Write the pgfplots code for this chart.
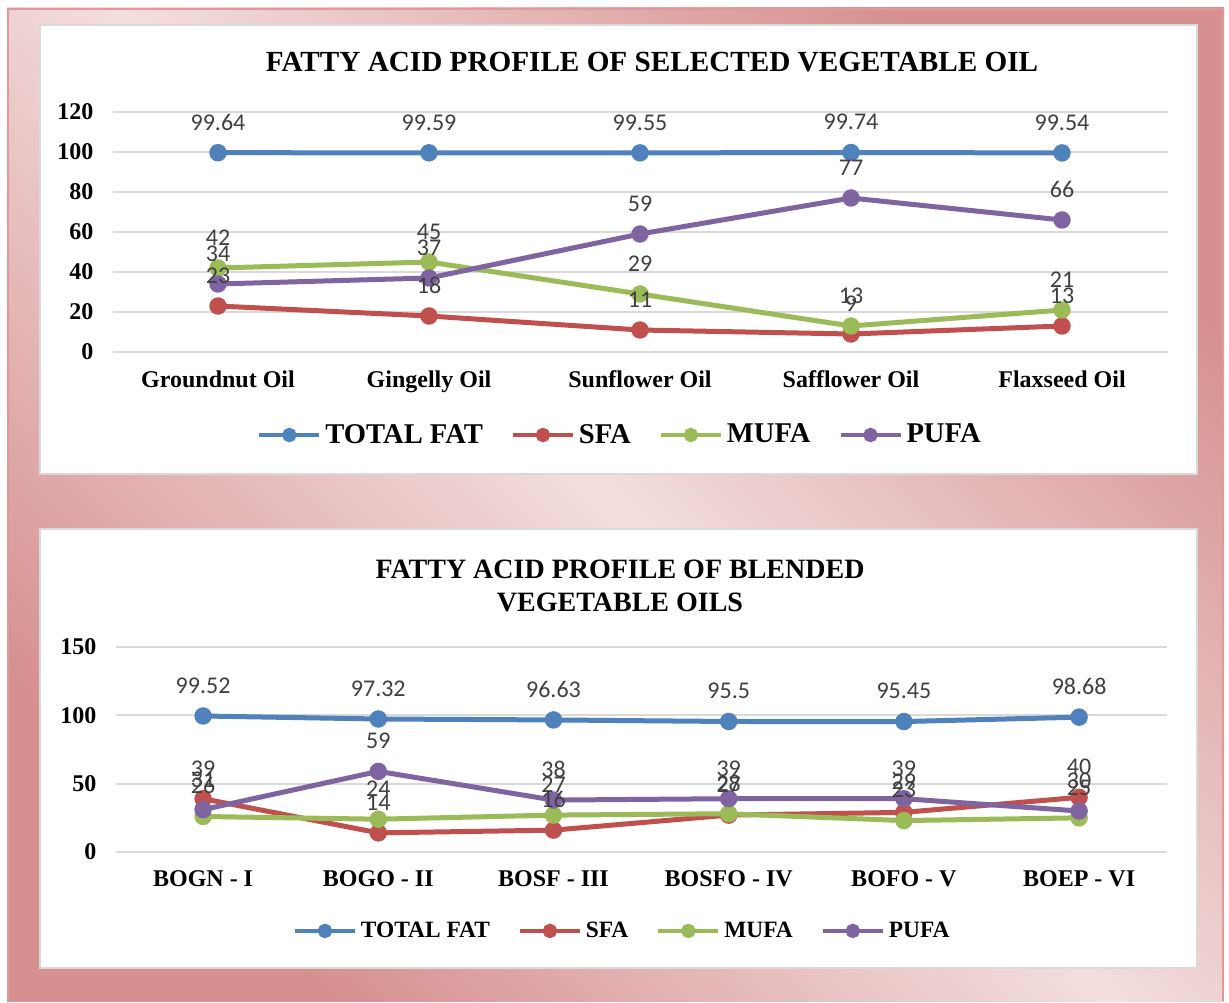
\documentclass[border=0pt]{standalone}
\usepackage{pgfplots}
\pgfplotsset{compat=1.18}
\usepackage{fontspec}
\setmainfont{Liberation Serif}
\newfontfamily\carlito{Carlito}
\definecolor{cTot}{HTML}{4F81BD}
\definecolor{cSfa}{HTML}{C0504D}
\definecolor{cMufa}{HTML}{9BBB59}
\definecolor{cPufa}{HTML}{8064A2}
\definecolor{cGrid}{HTML}{D9D9D9}
\definecolor{cLab}{HTML}{404040}
\definecolor{pinkD}{HTML}{D69090}
\definecolor{pinkL}{HTML}{F3DEDE}
\definecolor{pinkB}{HTML}{E09898}

\pgfplotstableread{
x total sfa mufa pufa
0 99.64 23 42 34
1 99.59 18 45 37
2 99.55 11 29 59
3 99.74 9 13 77
4 99.54 13 21 66
}\tabA
\pgfplotstableread{
x total sfa mufa pufa
0 99.52 39 26 31
1 97.32 14 24 59
2 96.63 16 27 38
3 95.5 27 28 39
4 95.45 29 23 39
5 98.68 40 25 30
}\tabB

\pgfplotsset{
  fa/.style={
    scale only axis, anchor=south west, clip=false,
    axis line style={draw=none}, major tick length=0pt,
    ymajorgrids, grid style={draw=cGrid, line width=1pt},
    tick label style={font=\bfseries\fontsize{12}{14}\selectfont, text=black},
    /pgf/number format/assume math mode=true,
    yticklabel style={xshift=-6pt},
    xticklabel style={yshift=-6pt},
    legend image code/.code={\draw[line width=2pt, mark size=2.6pt, mark repeat=2,mark phase=2] plot coordinates {(0pt,0pt)(15pt,0pt)(30pt,0pt)};},
    legend columns=4,
    every axis plot/.append style={line width=2.5pt, mark=*, mark size=3.1pt, mark options={solid}},
  },
  lab/.style={forget plot, draw=none, mark=none, nodes near coords, point meta=explicit symbolic,
    every node near coord/.append style={font=\carlito\fontsize{12}{14}\selectfont, text=cLab, anchor=base, yshift=11.3pt, inner sep=0pt}},
}

\begin{document}
\begin{tikzpicture}[x=0.5pt,y=0.5pt]
\fill[white] (0,0) rectangle (1229,1001);
\shade[top color=pinkD, bottom color=pinkD, middle color=pinkL, shading angle=-45] (7,0) rectangle (1224,993);
\draw[pinkB, line width=1pt] (8,0) -- (8,992) -- (1223,992) -- (1223,0);
\filldraw[fill=white, draw=cGrid, line width=1.2pt] (40,527) rectangle (1197,976);
\filldraw[fill=white, draw=cGrid, line width=1.2pt] (40,33) rectangle (1197,472);

\node[font=\bfseries\fontsize{14.6}{17}\selectfont] at (652,939) {FATTY ACID PROFILE OF SELECTED VEGETABLE OIL};
\node[align=center, font=\bfseries\fontsize{14}{16.5}\selectfont] at (620,415) {FATTY ACID PROFILE OF BLENDED\\VEGETABLE OILS};

\begin{axis}[fa,
  at={(56.25pt,324.5pt)}, width=527.5pt, height=120pt,
  xmin=-0.5, xmax=4.5, ymin=0, ymax=120, ytick={0,20,...,120},
  xtick={0,...,4}, xticklabels={Groundnut Oil,Gingelly Oil,Sunflower Oil,Safflower Oil,Flaxseed Oil},
  legend style={at={(0.482,-0.346)}, anchor=center, draw=none, font=\bfseries\fontsize{14.3}{16}\selectfont,
    /tikz/every even column/.append style={column sep=12pt}},
]
\addplot[color=cTot] table[x=x, y=total] {\tabA};
\addlegendentry{TOTAL FAT}
\addplot[color=cSfa] table[x=x, y=sfa] {\tabA};
\addlegendentry{SFA}
\addplot[color=cMufa] table[x=x, y=mufa] {\tabA};
\addlegendentry{MUFA}
\addplot[color=cPufa] table[x=x, y=pufa] {\tabA};
\addlegendentry{PUFA}
\addplot[lab] table[x=x, y=total, meta=total] {\tabA};
\addplot[lab] table[x=x, y=sfa, meta=sfa] {\tabA};
\addplot[lab] table[x=x, y=mufa, meta=mufa] {\tabA};
\addplot[lab] table[x=x, y=pufa, meta=pufa] {\tabA};
\end{axis}

\begin{axis}[fa,
  at={(57.75pt,74.5pt)}, width=525.6pt, height=102.5pt,
  xmin=-0.5, xmax=5.5, ymin=0, ymax=150, ytick={0,50,100,150},
  xtick={0,...,5}, xticklabels={BOGN - I,BOGO - II,BOSF - III,BOSFO - IV,BOFO - V,BOEP - VI},
  legend style={at={(0.483,-0.385)}, anchor=center, draw=none, font=\bfseries\fontsize{11.7}{14}\selectfont,
    /tikz/every even column/.append style={column sep=12pt}},
]
\addplot[color=cTot] table[x=x, y=total] {\tabB};
\addlegendentry{TOTAL FAT}
\addplot[color=cSfa] table[x=x, y=sfa] {\tabB};
\addlegendentry{SFA}
\addplot[color=cMufa] table[x=x, y=mufa] {\tabB};
\addlegendentry{MUFA}
\addplot[color=cPufa] table[x=x, y=pufa] {\tabB};
\addlegendentry{PUFA}
\addplot[lab] table[x=x, y=total, meta=total] {\tabB};
\addplot[lab] table[x=x, y=sfa, meta=sfa] {\tabB};
\addplot[lab] table[x=x, y=mufa, meta=mufa] {\tabB};
\addplot[lab] table[x=x, y=pufa, meta=pufa] {\tabB};
\end{axis}
\end{tikzpicture}
\end{document}
